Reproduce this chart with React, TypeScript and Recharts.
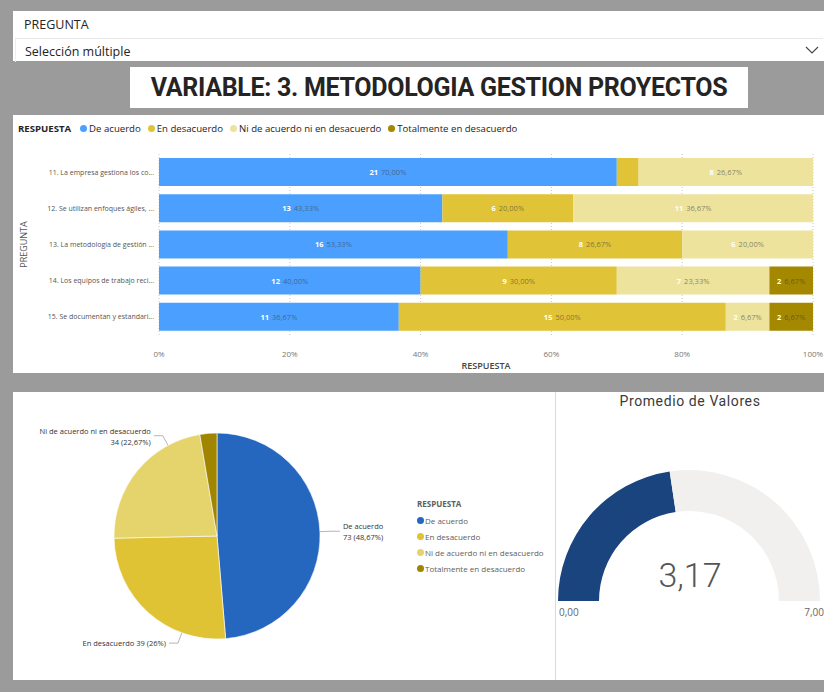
import React from 'react';
import { BarChart, Bar, XAxis, YAxis, CartesianGrid, LabelList, PieChart, Pie, Cell } from 'recharts';

const preguntas = [
    '11. La empresa gestiona los co...',
    '12. Se utilizan enfoques ágiles, ...',
    '13. La metodología de gestión ...',
    '14. Los equipos de trabajo reci...',
    '15. Se documentan y estandari...',
];

const respuestas = ['De acuerdo', 'En desacuerdo', 'Ni de acuerdo ni en desacuerdo', 'Totalmente en desacuerdo'];

// counts per question, one array per answer
const deAcuerdo = [21, 13, 16, 12, 11];
const enDesacuerdo = [1, 6, 8, 9, 15];
const niDeAcuerdo = [8, 11, 6, 7, 2];
const totalmenteDesacuerdo = [0, 0, 0, 2, 2];

const xTicks = [0, 0.2, 0.4, 0.6, 0.8, 1];

const gaugeValue = 3.17;
const gaugeMin = 0;
const gaugeMax = 7;

const barColors = ['#4BA0FF', '#E0C336', '#EDE39C', '#A38800'];
const pieColors = ['#2566BE', '#DFC335', '#E5D36C', '#A08600'];
const gaugeColors = ['#1A447E', '#F1F0EF'];

const FONT = "'Segoe UI', 'Open Sans', sans-serif";

const series = [deAcuerdo, enDesacuerdo, niDeAcuerdo, totalmenteDesacuerdo];

const fmtComma = (n: number, digits: number) => n.toFixed(digits).replace('.', ',');

const barData = preguntas.map((p, i) => {
    const total = series.reduce((s, arr) => s + arr[i], 0);
    const row: Record<string, string | number> = { pregunta: p };
    respuestas.forEach((r, k) => {
        const v = series[k][i];
        row[r] = v;
        row[`lbl_${k}`] = `${v}|${fmtComma((v / total) * 100, 2)}%`;
    });
    return row;
});

const pieData = respuestas.map((r, k) => ({ name: r, value: series[k].reduce((a, b) => a + b, 0) }));
const pieTotal = pieData.reduce((s, d) => s + d.value, 0);

const gaugeData = [
    { name: 'valor', value: gaugeValue - gaugeMin },
    { name: 'resto', value: gaugeMax - gaugeValue },
];

const BarSegmentLabel = (props: any) => {
    const { x, y, width, height, value } = props;
    if (!value || width < 30) return null;
    const [count, pct] = String(value).split('|');
    return (
        <text x={x + width / 2} y={y + height / 2} textAnchor="middle" dominantBaseline="central" fontSize={7.5} fontFamily={FONT}>
            <tspan fill="#ffffff" fontWeight={700}>{count}</tspan>
            <tspan fill="#3c3c3c" fillOpacity={0.6} dx={3}>{pct}</tspan>
        </text>
    );
};

// single-line category tick (no wrapping)
const PreguntaTick = (props: any) => {
    const { x, y, payload } = props;
    return (
        <text x={x} y={y} textAnchor="end" dominantBaseline="central" fontSize={7} fill="#555" fontFamily={FONT}>
            {payload.value}
        </text>
    );
};

const RAD = Math.PI / 180;

const renderPieLabel = (props: any) => {
    const { cx, cy, midAngle, outerRadius, value, name } = props;
    if (value / pieTotal < 0.05) return null;
    let ang = ((midAngle % 360) + 540) % 360 - 180;
    // pull labels that are not on the sides toward the vertical, like the original
    if (Math.abs(Math.cos(ang * RAD)) < 0.9) {
        const target = Math.sin(ang * RAD) > 0 ? 90 : -90;
        ang += Math.sign(target - ang) * 22;
    }
    const cos = Math.cos(ang * RAD);
    const sin = Math.sin(ang * RAD);
    const ax = cx + outerRadius * cos;
    const ay = cy - outerRadius * sin;
    const ex = cx + (outerRadius + 11) * cos;
    const ey = cy - (outerRadius + 11) * sin;
    const dir = cos >= 0 ? 1 : -1;
    const hx = ex + dir * 9;
    const tx = hx + dir * 3;
    const pct = Number(((value / pieTotal) * 100).toFixed(2));
    const pctTxt = `${value} (${String(pct).replace('.', ',')}%)`;
    const oneLine = Math.abs(sin) > 0.9;
    return (
        <g>
            <polyline points={`${ax},${ay} ${ex},${ey} ${hx},${ey}`} fill="none" stroke="#b5b5b5" strokeWidth={1} />
            {oneLine ? (
                <text x={tx} y={ey} textAnchor={dir > 0 ? 'start' : 'end'} dominantBaseline="central" fontSize={7.5} fill="#333" fontFamily={FONT}>
                    {`${name} ${pctTxt}`}
                </text>
            ) : (
                <text x={tx} y={ey} textAnchor={dir > 0 ? 'start' : 'end'} fontSize={7.5} fill="#333" fontFamily={FONT}>
                    <tspan x={tx} dy={-2}>{name}</tspan>
                    <tspan x={tx} dy={11}>{pctTxt}</tspan>
                </text>
            )}
        </g>
    );
};

const App: React.FC = () => {
    return (
        <div style={{ position: 'absolute', left: 0, top: 0, width: 824, height: 692, background: '#9b9b9b', fontFamily: FONT, overflow: 'hidden' }}>
            {/* slicer */}
            <div style={{ position: 'absolute', left: 13, top: 11, width: 811, height: 50, background: '#fff' }}>
                <div style={{ position: 'absolute', left: 11, top: 5, fontSize: 12.5, color: '#252423' }}>PREGUNTA</div>
                <div style={{ position: 'absolute', left: 2, top: 27, width: 807, height: 23, borderTop: '1px solid #e8e8e8', borderLeft: '1px solid #eee' }}>
                    <div style={{ position: 'absolute', left: 9, top: 4, fontSize: 12.5, color: '#252423' }}>Selección múltiple</div>
                    <svg style={{ position: 'absolute', right: 4, top: 6 }} width={14} height={10}>
                        <polyline points="1,2 7,8 13,2" fill="none" stroke="#444" strokeWidth={1.1} />
                    </svg>
                </div>
            </div>

            {/* title */}
            <div style={{ position: 'absolute', left: 130, top: 67, width: 618, height: 41, background: '#fff', display: 'flex', alignItems: 'center', justifyContent: 'center' }}>
                <span style={{ fontFamily: 'Roboto, sans-serif', fontWeight: 700, fontSize: 25, color: '#252423', letterSpacing: -0.3 }}>
                    VARIABLE: 3. METODOLOGIA GESTION PROYECTOS
                </span>
            </div>

            {/* stacked bar panel */}
            <div style={{ position: 'absolute', left: 13, top: 115, width: 811, height: 258, background: '#fff' }}>
                <div style={{ position: 'absolute', left: 5, top: 7, display: 'flex', alignItems: 'center', fontSize: 9.6, color: '#252423', whiteSpace: 'nowrap' }}>
                    <span style={{ fontWeight: 700, marginRight: 9 }}>RESPUESTA</span>
                    {respuestas.map((r, k) => (
                        <span key={r} style={{ display: 'flex', alignItems: 'center', marginRight: 7 }}>
                            <span style={{ width: 7, height: 7, borderRadius: '50%', background: barColors[k], marginRight: 2, display: 'inline-block' }} />
                            {r}
                        </span>
                    ))}
                </div>
                <BarChart
                    width={811}
                    height={258}
                    data={barData}
                    layout="vertical"
                    stackOffset="expand"
                    barSize={28}
                    margin={{ top: 39, right: 11, bottom: 4, left: 0 }}
                >
                    <CartesianGrid horizontal={false} strokeDasharray="1 2" stroke="#c8c8c8" />
                    <XAxis
                        type="number"
                        domain={[0, 1]}
                        ticks={xTicks}
                        interval={0}
                        tickFormatter={(v: number) => `${Math.round(v * 100)}%`}
                        axisLine={false}
                        tickLine={false}
                        tickSize={0}
                        tickMargin={16}
                        height={34}
                        tick={{ fontSize: 8, fill: '#777', fontFamily: FONT }}
                        label={{ value: 'RESPUESTA', position: 'insideBottom', offset: 0, fontSize: 9, fill: '#444', fontWeight: 600, fontFamily: FONT }}
                    />
                    <YAxis
                        type="category"
                        dataKey="pregunta"
                        width={146}
                        axisLine={false}
                        tickLine={false}
                        tickSize={0}
                        tickMargin={5}
                        interval={0}
                        tick={<PreguntaTick />}
                        label={{
                            content: ({ viewBox }: any) => (
                                <text
                                    x={viewBox.x + 10}
                                    y={viewBox.y + viewBox.height / 2}
                                    transform={`rotate(-90 ${viewBox.x + 10} ${viewBox.y + viewBox.height / 2})`}
                                    textAnchor="middle"
                                    dominantBaseline="central"
                                    fontSize={9}
                                    fill="#555"
                                    fontFamily={FONT}
                                >
                                    PREGUNTA
                                </text>
                            ),
                        }}
                    />
                    {respuestas.map((r, k) => (
                        <Bar key={r} dataKey={r} stackId="a" fill={barColors[k]} isAnimationActive={false}>
                            <LabelList dataKey={`lbl_${k}`} content={BarSegmentLabel} />
                        </Bar>
                    ))}
                </BarChart>
            </div>

            {/* pie panel */}
            <div style={{ position: 'absolute', left: 13, top: 392, width: 542, height: 288, background: '#fff' }}>
                <PieChart width={542} height={288} margin={{ top: 0, right: 0, bottom: 0, left: 0 }}>
                    <Pie
                        data={pieData}
                        dataKey="value"
                        nameKey="name"
                        cx={204}
                        cy={144}
                        outerRadius={103}
                        startAngle={90}
                        endAngle={-270}
                        stroke="#ffffff"
                        strokeWidth={0.6}
                        label={renderPieLabel}
                        labelLine={false}
                        isAnimationActive={false}
                    >
                        {pieData.map((d, k) => (
                            <Cell key={d.name} fill={pieColors[k]} />
                        ))}
                    </Pie>
                </PieChart>
                <div style={{ position: 'absolute', left: 404, top: 106, fontSize: 8, color: '#605e5c' }}>
                    <div style={{ fontWeight: 700, marginBottom: 3 }}>RESPUESTA</div>
                    {pieData.map((d, k) => (
                        <div key={d.name} style={{ display: 'flex', alignItems: 'center', height: 16 }}>
                            <span style={{ width: 7, height: 7, borderRadius: '50%', background: pieColors[k], marginRight: 1, display: 'inline-block' }} />
                            {d.name}
                        </div>
                    ))}
                </div>
            </div>

            <div style={{ position: 'absolute', left: 555, top: 392, width: 1, height: 288, background: '#dadada' }} />

            {/* gauge panel */}
            <div style={{ position: 'absolute', left: 556, top: 392, width: 268, height: 288, background: '#fff' }}>
                <div style={{ position: 'absolute', left: 0, top: 1, width: 268, textAlign: 'center', fontFamily: 'Roboto, sans-serif', fontWeight: 400, fontSize: 14, color: '#3a3a3a', letterSpacing: 0.6 }}>
                    Promedio de Valores
                </div>
                <PieChart width={268} height={288} margin={{ top: 0, right: 0, bottom: 0, left: 0 }}>
                    <Pie
                        data={gaugeData}
                        dataKey="value"
                        cx={133}
                        cy={209}
                        innerRadius={90}
                        outerRadius={131}
                        startAngle={180}
                        endAngle={0}
                        stroke="none"
                        isAnimationActive={false}
                    >
                        {gaugeData.map((d, k) => (
                            <Cell key={d.name} fill={gaugeColors[k]} />
                        ))}
                    </Pie>
                </PieChart>
                <div style={{ position: 'absolute', left: 0, top: 163, width: 268, textAlign: 'center', fontFamily: 'Roboto, sans-serif', fontWeight: 300, fontSize: 34, color: '#555' }}>
                    {fmtComma(gaugeValue, 2)}
                </div>
                <div style={{ position: 'absolute', left: 3, top: 213, fontSize: 10, color: '#666' }}>{fmtComma(gaugeMin, 2)}</div>
                <div style={{ position: 'absolute', right: 0, top: 213, fontSize: 10, color: '#666' }}>{fmtComma(gaugeMax, 2)}</div>
            </div>
        </div>
    );
};

export default App;
